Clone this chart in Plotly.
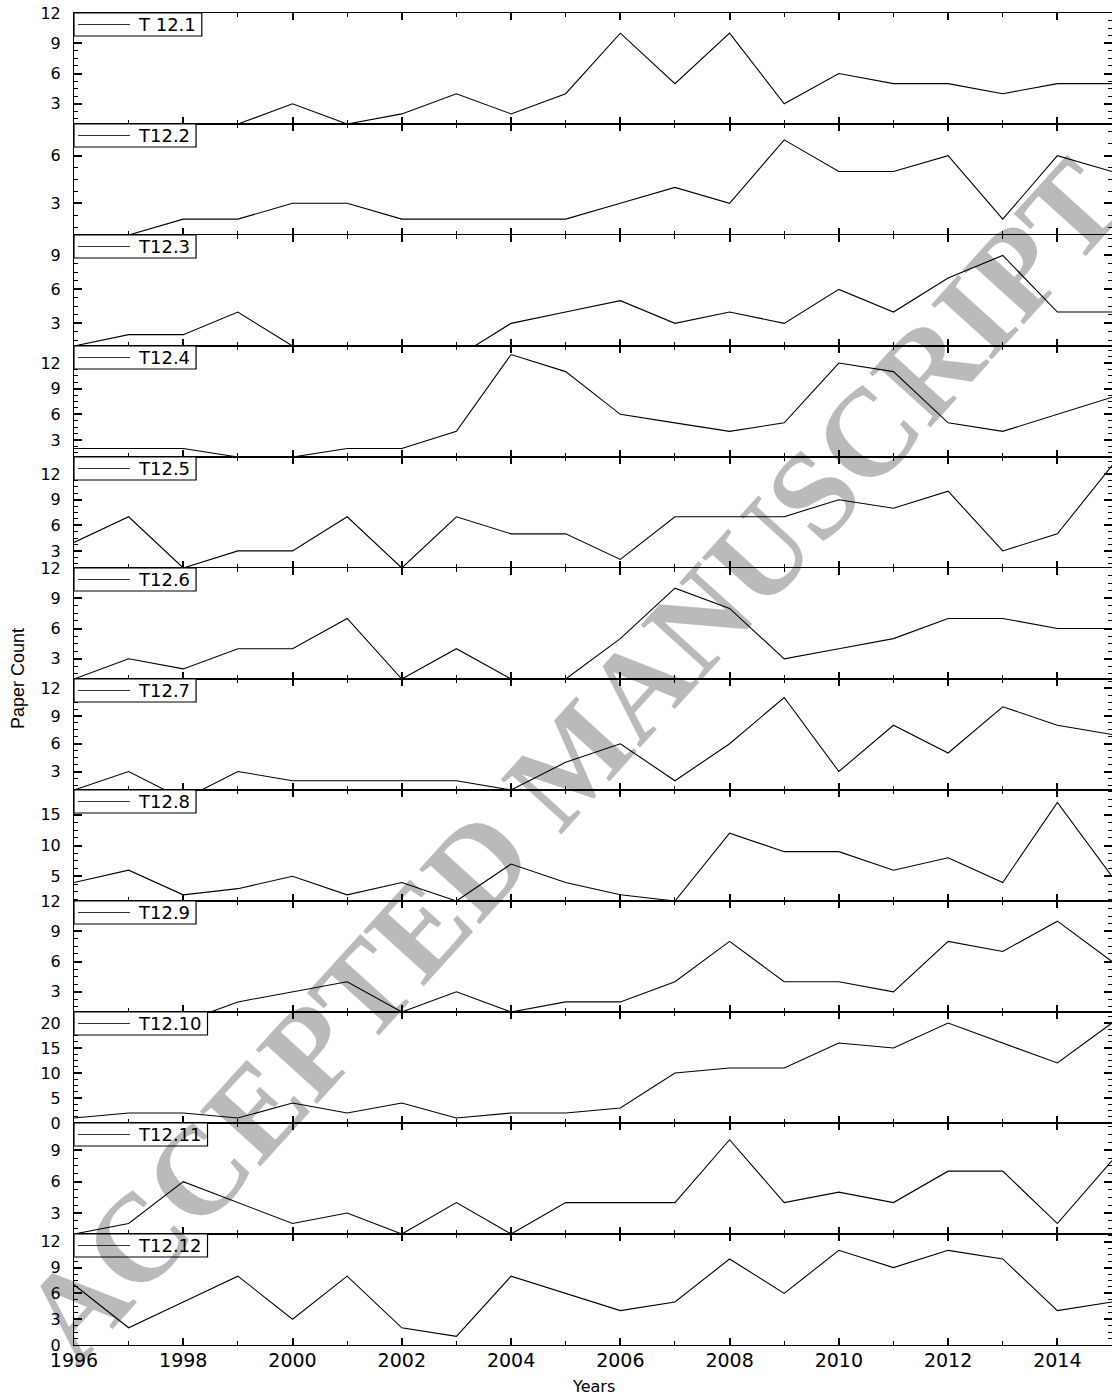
import plotly.graph_objects as go
from plotly.subplots import make_subplots

years = list(range(1996, 2016))

series_names = ["T 12.1", "T12.2", "T12.3", "T12.4", "T12.5", "T12.6",
                "T12.7", "T12.8", "T12.9", "T12.10", "T12.11", "T12.12"]

t12_1 = [1, 1, 1, 1, 3, 1, 2, 4, 2, 4, 10, 5, 10, 3, 6, 5, 5, 4, 5, 5]
t12_2 = [1, 1, 2, 2, 3, 3, 2, 2, 2, 2, 3, 4, 3, 7, 5, 5, 6, 2, 6, 5]
t12_3 = [1, 2, 2, 4, 1, 1, 1, 0, 3, 4, 5, 3, 4, 3, 6, 4, 7, 9, 4, 4]
t12_4 = [2, 2, 2, 1, 1, 2, 2, 4, 13, 11, 6, 5, 4, 5, 12, 11, 5, 4, 6, 8]
t12_5 = [4, 7, 1, 3, 3, 7, 1, 7, 5, 5, 2, 7, 7, 7, 9, 8, 10, 3, 5, 13]
t12_6 = [1, 3, 2, 4, 4, 7, 1, 4, 1, 1, 5, 10, 8, 3, 4, 5, 7, 7, 6, 6]
t12_7 = [1, 3, 0, 3, 2, 2, 2, 2, 1, 4, 6, 2, 6, 11, 3, 8, 5, 10, 8, 7]
t12_8 = [4, 6, 2, 3, 5, 2, 4, 1, 7, 4, 2, 1, 12, 9, 9, 6, 8, 4, 17, 5]
t12_9 = [0, 0, 0, 2, 3, 4, 1, 3, 1, 2, 2, 4, 8, 4, 4, 3, 8, 7, 10, 6]
t12_10 = [1, 2, 2, 1, 4, 2, 4, 1, 2, 2, 3, 10, 11, 11, 16, 15, 20, 16, 12, 20]
t12_11 = [1, 2, 6, 4, 2, 3, 1, 4, 1, 4, 4, 4, 10, 4, 5, 4, 7, 7, 2, 8]
t12_12 = [7, 2, 5, 8, 3, 8, 2, 1, 8, 6, 4, 5, 10, 6, 11, 9, 11, 10, 4, 5]

all_series = [t12_1, t12_2, t12_3, t12_4, t12_5, t12_6,
              t12_7, t12_8, t12_9, t12_10, t12_11, t12_12]

y_ranges = [[1, 12], [1, 8], [1, 10.8], [1, 14], [1, 14], [1, 12],
            [1, 13], [1, 19], [1, 12], [0, 22.2], [1, 11.6], [0, 12.9]]
y_dticks = [3, 3, 3, 3, 3, 3, 3, 5, 3, 5, 3, 3]

x_range = [1996, 2015]

# ---- figure geometry ----
W, H = 1112, 1400
ML, MR, MT, MB = 74, 0, 13, 55
PW = W - ML - MR
PH = H - MT - MB

n = len(all_series)
fig = make_subplots(rows=n, cols=1, shared_xaxes=True, vertical_spacing=0)

LEG_FONT = 18
char_w = {"T": 0.611, " ": 0.318, ".": 0.318}


def text_width(s, size):
    return sum(char_w.get(c, 0.636) for c in s) * size


shapes = []
annotations = []
for i, (name, vals) in enumerate(zip(series_names, all_series)):
    fig.add_trace(go.Scatter(x=years, y=vals, mode="lines", name=name,
                             line=dict(color="black", width=1.1),
                             showlegend=False),
                  row=i + 1, col=1)
    fig.update_yaxes(range=y_ranges[i], dtick=y_dticks[i], tick0=0,
                     row=i + 1, col=1)
    # legend box for this panel
    top = 1 - i / n
    box_h = 23 / PH
    box_w = (62 + text_width(name, LEG_FONT) + 9) / PW
    shapes.append(dict(type="rect", xref="paper", yref="paper",
                       x0=0, x1=box_w, y0=top - box_h, y1=top,
                       fillcolor="white", line=dict(color="black", width=1.2),
                       layer="above"))
    shapes.append(dict(type="line", xref="paper", yref="paper",
                       x0=4 / PW, x1=56 / PW, y0=top - box_h / 2,
                       y1=top - box_h / 2,
                       line=dict(color="#333333", width=1), layer="above"))
    annotations.append(dict(text=name, xref="paper", yref="paper",
                            x=62 / PW, y=top - box_h / 2, xanchor="left",
                            yanchor="middle", showarrow=False,
                            font=dict(family="DejaVu Sans", size=LEG_FONT,
                                      color="black")))

fig.update_xaxes(range=x_range, dtick=2, tick0=1996, ticks="inside",
                 ticklen=7, tickwidth=1.5, tickcolor="black",
                 showline=True, linewidth=1.1, linecolor="black",
                 mirror="ticks", showgrid=False, zeroline=False,
                 minor=dict(dtick=1, ticks="inside", ticklen=4,
                            tickcolor="black", tickwidth=1.2),
                 ticklabelstandoff=-2,
                 tickfont=dict(family="DejaVu Sans", size=19, color="black"))

for i in range(n):
    fig.update_yaxes(ticks="inside", ticklen=8, tickwidth=1.5,
                     tickcolor="black", showline=True, linewidth=1.1,
                     linecolor="black", mirror="ticks", showgrid=False,
                     zeroline=False, ticklabelstandoff=9,
                     minor=dict(dtick=y_dticks[i] / 4, ticks="inside",
                                ticklen=4, tickcolor="black", tickwidth=1.2),
                     tickfont=dict(family="DejaVu Sans", size=16,
                                   color="black"),
                     row=i + 1, col=1)

annotations.append(dict(text="Paper Count", xref="paper", yref="paper",
                        x=0, y=0.5, xanchor="center", yanchor="middle",
                        xshift=-56, textangle=-90, showarrow=False,
                        font=dict(family="Liberation Sans", size=18,
                                  color="black")))
annotations.append(dict(text="Years", xref="paper", yref="paper",
                        x=0.5, y=0, xanchor="center", yanchor="middle",
                        yshift=-41, showarrow=False,
                        font=dict(family="DejaVu Sans", size=16,
                                  color="black")))
annotations.append(dict(text="<b>ACCEPTED MANUSCRIPT</b>", xref="paper",
                        yref="paper", x=0.48, y=0.439, textangle=-47.8,
                        showarrow=False,
                        font=dict(family="Liberation Serif", size=125,
                                  color="rgba(0,0,0,0.27)")))

fig.update_layout(width=W, height=H,
                  margin=dict(l=ML, r=MR, t=MT, b=MB),
                  paper_bgcolor="white", plot_bgcolor="white",
                  shapes=shapes, annotations=annotations, showlegend=False)

fig.write_html("out.html",
               config={"displayModeBar": False},
               post_script="document.body.style.margin='0';"
                           "document.body.style.overflow='hidden';")
